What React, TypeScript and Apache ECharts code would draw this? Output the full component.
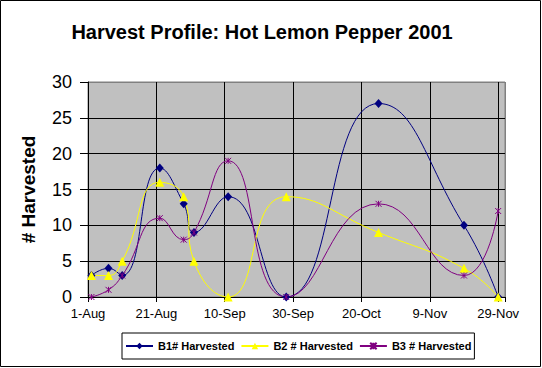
import React, { useEffect, useRef } from "react";
import * as echarts from "echarts";

const title = "Harvest Profile: Hot Lemon Pepper 2001";
const yAxisName = "# Harvested";
const startDate = "2001-08-01";
const endDate = "2001-12-01";
const dates = [
  "2001-08-02", "2001-08-07", "2001-08-11", "2001-08-22", "2001-08-29",
  "2001-09-01", "2001-09-11", "2001-09-28", "2001-10-25", "2001-11-19", "2001-11-29",
];
const seriesNames = ["B1# Harvested", "B2 # Harvested", "B3 # Harvested"];
const b1Values = [3, 4, 3, 18, 13, 9, 14, 0, 27, 10, 0];
const b2Values = [3, 3, 5, 16, 14, 5, 0, 14, 9, 4, 0];
const b3Values = [0, 1, 3, 11, 8, 9, 19, 0, 13, 3, 12];
const months = ["Jan", "Feb", "Mar", "Apr", "May", "Jun", "Jul", "Aug", "Sep", "Oct", "Nov", "Dec"];

const DAY = 86400000;
const toDay = (s: string) => {
  const [y, m, d] = s.split("-").map(Number);
  return Math.round((Date.UTC(y, m - 1, d) - Date.UTC(2001, 7, 1)) / DAY);
};
const fmt = (v: number) => {
  const d = new Date(Date.UTC(2001, 7, 1) + v * DAY);
  return `${d.getUTCDate()}-${months[d.getUTCMonth()]}`;
};

export default function App() {
  const ref = useRef<HTMLDivElement>(null);
  useEffect(() => {
    document.body.style.margin = "0";
    if (!ref.current) return;
    const chart = echarts.init(ref.current, undefined, { renderer: "svg" });
    const xs = dates.map(toDay);
    const mk = (vals: number[]) => vals.map((v, i) => [xs[i], v]);
    const font = "'Liberation Sans', Arial, sans-serif";
    chart.setOption({
      animation: false,
      backgroundColor: "#ffffff",
      textStyle: { fontFamily: font },
      graphic: [
        {
          type: "rect",
          shape: { x: 0.5, y: 0.5, width: 540, height: 366 },
          style: { fill: "none", stroke: "#000", lineWidth: 1 },
          z: 100,
        },
        {
          type: "text",
          x: 262,
          y: 32,
          style: {
            text: title,
            fontFamily: font,
            fontSize: 20,
            fontWeight: "bold",
            fill: "#000",
            align: "center",
            verticalAlign: "middle",
          },
        },
      ],
      grid: {
        left: 88,
        top: 82,
        right: 37,
        bottom: 71,
        show: true,
        backgroundColor: "#C0C0C0",
        borderColor: "#808080",
        borderWidth: 1,
        containLabel: false,
      },
      legend: {
        left: 122,
        top: 333,
        orient: "horizontal",
        padding: [7, 3, 7, 3],
        itemGap: 6,
        itemWidth: 27,
        itemHeight: 8,
        borderColor: "#000",
        borderWidth: 1,
        textStyle: { fontFamily: font, fontSize: 11, fontWeight: "bold", color: "#000", lineHeight: 12 },
        data: seriesNames,
      },
      xAxis: {
        type: "value",
        min: toDay(startDate),
        max: toDay(endDate),
        interval: 20,
        axisLine: { show: true, lineStyle: { color: "#000", width: 1 } },
        axisTick: { show: true, length: 5, lineStyle: { color: "#000" } },
        axisLabel: {
          formatter: (v: number) => (v % 20 === 0 ? fmt(v) : ""),
          fontFamily: font,
          fontSize: 13,
          color: "#000",
          margin: 10,
        },
        splitLine: {
          show: true,
          lineStyle: { color: ["#000", "#000", "#000", "#000", "#000", "#000", "#000", "#808080"], width: 1 },
        },
      },
      yAxis: {
        type: "value",
        min: 0,
        max: 30,
        interval: 5,
        name: yAxisName,
        nameLocation: "middle",
        nameGap: 50,
        nameTextStyle: { fontFamily: font, fontSize: 19, fontWeight: "bold", color: "#000" },
        axisLine: { show: true, lineStyle: { color: "#000", width: 1 } },
        axisTick: { show: true, length: 8, lineStyle: { color: "#000" } },
        axisLabel: { fontFamily: font, fontSize: 18, color: "#000", margin: 16 },
        splitLine: {
          show: true,
          lineStyle: { color: ["#000", "#000", "#000", "#000", "#000", "#000", "#808080"], width: 1 },
        },
      },
      series: [
        {
          name: seriesNames[0],
          type: "line",
          data: mk(b1Values),
          smooth: 0.5,
          clip: false,
          symbol: "diamond",
          symbolSize: [8, 9],
          lineStyle: { color: "#000080", width: 1 },
          itemStyle: { color: "#000080" },
        },
        {
          name: seriesNames[1],
          type: "line",
          data: mk(b2Values),
          smooth: 0.5,
          clip: false,
          symbol: "triangle",
          symbolSize: 9,
          lineStyle: { color: "#FFFF00", width: 1 },
          itemStyle: { color: "#FFFF00" },
        },
        {
          name: seriesNames[2],
          type: "line",
          data: mk(b3Values),
          smooth: 0.5,
          clip: false,
          symbol: "path://M0,0L10,10M10,0L0,10M5,0L5,10",
          symbolSize: 6,
          lineStyle: { color: "#800080", width: 1 },
          itemStyle: { color: "#800080", borderColor: "#800080", borderWidth: 1 },
        },
      ],
    });
    return () => chart.dispose();
  }, []);
  return <div ref={ref} style={{ width: 542, height: 368 }} />;
}
